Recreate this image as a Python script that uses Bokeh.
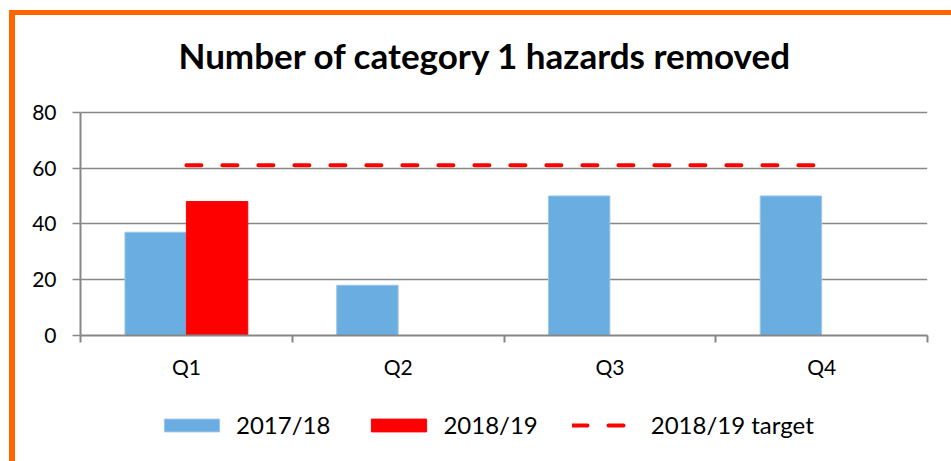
import numpy as np
from bokeh.plotting import figure
from bokeh.layouts import column
from bokeh.models import ColumnDataSource, Range1d, FixedTicker, Legend, LegendItem
from bokeh.transform import dodge
from bokeh.embed import file_html
from bokeh.resources import INLINE

# ---- data ----
quarters = ["Q1", "Q2", "Q3", "Q4"]
hazards_2017_18 = [37, 18, 50, 50]
hazards_2018_19 = [48, np.nan, np.nan, np.nan]
target_2018_19 = [61, 61, 61, 61]
y_ticks = [0, 20, 40, 60, 80]
series_labels = ["2017/18", "2018/19", "2018/19 target"]
title_text = "Number of category 1 hazards removed"

pos = [i + 0.5 for i in range(len(quarters))]
bounds = list(range(len(quarters) + 1))

src = ColumnDataSource(dict(
    x=np.array(pos),
    a=np.array(hazards_2017_18, dtype=float),
    b=np.array(hazards_2018_19, dtype=float),
    t=np.array(target_2018_19, dtype=float),
))

GRAY = "#878787"
BLUE = "#6AADE0"
BLUE_EDGE = "#9CC6EA"
RED = "#FF0000"
ORANGE = "#FF6600"
FONT = "Lato"

bar_style_a = dict(fill_color=BLUE, line_color=BLUE_EDGE, line_width=1)
bar_style_b = dict(fill_color=RED, line_color=RED, line_width=1)
line_style = dict(line_color=RED, line_width=4, line_dash="15 21", line_cap="round")

# layout geometry (pixels)
FRAME_TOP = 61        # top of plotting frame (room above the 80 gridline)
Y80_PX = 96.7         # where the 80 gridline sits
ZERO_PX = 320         # where the 0 line sits
Y_MAX = y_ticks[-1]
y_end = Y_MAX * (ZERO_PX - FRAME_TOP) / (ZERO_PX - Y80_PX)

# ---------------- main chart ----------------
p = figure(width=936, height=375,
           x_range=Range1d(0, len(quarters)), y_range=Range1d(0, y_end),
           output_backend="svg", toolbar_location=None,
           min_border_left=65, min_border_right=24,
           min_border_top=FRAME_TOP, min_border_bottom=375 - ZERO_PX)

p.border_fill_color = "white"
p.background_fill_color = "white"
p.outline_line_color = None

# title
p.title.text = title_text
p.title.align = "left"
p.title.offset = 98
p.title.text_font = FONT
p.title.text_font_style = "bold"
p.title.text_font_size = "35px"
p.title.text_color = "black"
p.title.standoff = 2

# grid
p.xgrid.visible = False
p.ygrid.ticker = FixedTicker(ticks=y_ticks)
p.ygrid.grid_line_color = GRAY
p.ygrid.grid_line_width = 1.5

# y axis
p.yaxis.ticker = FixedTicker(ticks=y_ticks)
p.yaxis.bounds = (y_ticks[0], y_ticks[-1])
p.yaxis.axis_line_color = GRAY
p.yaxis.axis_line_width = 2
p.yaxis.major_tick_out = 8
p.yaxis.major_tick_in = 0
p.yaxis.major_tick_line_color = GRAY
p.yaxis.major_tick_line_width = 1.5
p.yaxis.minor_tick_line_color = None
p.yaxis.major_label_text_font = FONT
p.yaxis.major_label_text_font_size = "21px"
p.yaxis.major_label_text_color = "black"
p.yaxis.major_label_standoff = 16

# x axis
p.xaxis.ticker = FixedTicker(ticks=pos, minor_ticks=bounds)
p.xaxis.major_label_overrides = {pos[i]: quarters[i] for i in range(len(quarters))}
p.xaxis.axis_line_color = GRAY
p.xaxis.axis_line_width = 2
p.xaxis.major_tick_out = 0
p.xaxis.major_tick_in = 0
p.xaxis.major_tick_line_color = None
p.xaxis.minor_tick_out = 7
p.xaxis.minor_tick_in = 0
p.xaxis.minor_tick_line_color = GRAY
p.xaxis.minor_tick_line_width = 2
p.xaxis.major_label_text_font = FONT
p.xaxis.major_label_text_font_size = "21px"
p.xaxis.major_label_text_color = "black"
p.xaxis.major_label_standoff = 11

# marks
p.vbar(x=dodge("x", -0.145), top="a", width=0.29, source=src, **bar_style_a)
p.vbar(x=dodge("x", 0.145), top="b", width=0.29, source=src, **bar_style_b)
p.line("x", "t", source=src, **line_style)

# ---------------- legend strip ----------------
q = figure(width=936, height=71, x_range=Range1d(0, 1), y_range=Range1d(0, 1),
           output_backend="svg", toolbar_location=None,
           x_axis_location=None, y_axis_location=None,
           min_border=0)
q.grid.visible = False
q.outline_line_color = None
q.border_fill_color = "white"
q.background_fill_color = "white"

# same series, hidden: only their legend swatches are shown here
la = q.vbar(x="x", top="a", width=0.29, source=src, visible=False, **bar_style_a)
lb = q.vbar(x="x", top="b", width=0.29, source=src, visible=False, **bar_style_b)
lt = q.line(x="x", y="t", source=src, visible=False, **line_style)

legend = Legend(items=[LegendItem(label=series_labels[0], renderers=[la]),
                       LegendItem(label=series_labels[1], renderers=[lb]),
                       LegendItem(label=series_labels[2], renderers=[lt])],
                orientation="horizontal", location=(77, 22),
                glyph_width=69, glyph_height=16, label_standoff=10, spacing=34,
                padding=0, margin=0, border_line_color=None,
                background_fill_alpha=0, inactive_fill_alpha=0,
                label_text_font=FONT, label_text_font_size="24px",
                label_text_color="black")
q.add_layout(legend)

layout = column(p, q, spacing=0)
layout.styles = {"border-left": "6px solid " + ORANGE,
                 "border-top": "5px solid " + ORANGE,
                 "margin-left": "9px", "margin-top": "10px"}

open("out.html", "w").write(file_html(layout, INLINE))
